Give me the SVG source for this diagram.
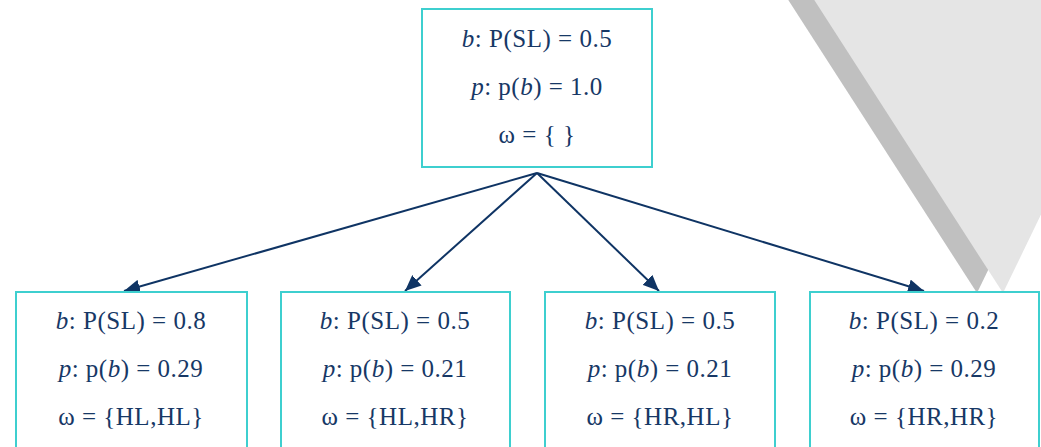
<svg xmlns="http://www.w3.org/2000/svg" width="1041" height="447" viewBox="0 0 1041 447">
  <style>
    .box { fill: #ffffff; stroke: #3ecfcf; stroke-width: 2; }
    .lbl { font-family: "Liberation Serif", "Times New Roman", serif; font-size: 25px; fill: #173866; text-anchor: middle; letter-spacing: 0.5px; }
    .it { font-style: italic; }
    .edge { stroke: #0f3464; stroke-width: 2; fill: none; marker-end: url(#head); }
  </style>
  <defs>
    <marker id="head" viewBox="0 0 16 14" refX="16" refY="7" markerWidth="16" markerHeight="14" markerUnits="userSpaceOnUse" orient="auto">
      <path d="M0,0 L16,7 L0,14 Z" fill="#0f3464"/>
    </marker>
  </defs>

  <!-- decorative wedge with its shadow -->
  <g id="wedge">
    <polygon points="787,-2 1120,-2 977,293" fill="#c0c0c0"/>
    <polygon points="813,-2 1146,-2 1003,293" fill="#e5e5e5"/>
  </g>

  <g id="connectors">
    <line class="edge" x1="537" y1="173" x2="124" y2="291"/>
    <line class="edge" x1="537" y1="173" x2="405" y2="291"/>
    <line class="edge" x1="537" y1="173" x2="659" y2="291"/>
    <line class="edge" x1="537" y1="173" x2="924" y2="291"/>
  </g>

  <g id="root">
    <rect class="box" x="422" y="9" width="230" height="158"/>
    <text class="lbl" x="537" y="47"><tspan class="it">b</tspan>: P(SL) = 0.5</text>
    <text class="lbl" x="537" y="95"><tspan class="it">p</tspan>: p(<tspan class="it">b</tspan>) = 1.0</text>
    <text class="lbl" x="537" y="143">ω = { }</text>
  </g>

  <g id="hl-hl">
    <rect class="box" x="16" y="292" width="231" height="170"/>
    <text class="lbl" x="131" y="329"><tspan class="it">b</tspan>: P(SL) = 0.8</text>
    <text class="lbl" x="131" y="377"><tspan class="it">p</tspan>: p(<tspan class="it">b</tspan>) = 0.29</text>
    <text class="lbl" x="131" y="425">ω = {HL,HL}</text>
  </g>

  <g id="hl-hr">
    <rect class="box" x="281" y="292" width="229" height="170"/>
    <text class="lbl" x="395" y="329"><tspan class="it">b</tspan>: P(SL) = 0.5</text>
    <text class="lbl" x="395" y="377"><tspan class="it">p</tspan>: p(<tspan class="it">b</tspan>) = 0.21</text>
    <text class="lbl" x="395" y="425">ω = {HL,HR}</text>
  </g>

  <g id="hr-hl">
    <rect class="box" x="545" y="292" width="230" height="170"/>
    <text class="lbl" x="660" y="329"><tspan class="it">b</tspan>: P(SL) = 0.5</text>
    <text class="lbl" x="660" y="377"><tspan class="it">p</tspan>: p(<tspan class="it">b</tspan>) = 0.21</text>
    <text class="lbl" x="660" y="425">ω = {HR,HL}</text>
  </g>

  <g id="hr-hr">
    <rect class="box" x="810" y="292" width="229" height="170"/>
    <text class="lbl" x="924" y="329"><tspan class="it">b</tspan>: P(SL) = 0.2</text>
    <text class="lbl" x="924" y="377"><tspan class="it">p</tspan>: p(<tspan class="it">b</tspan>) = 0.29</text>
    <text class="lbl" x="924" y="425">ω = {HR,HR}</text>
  </g>
</svg>
